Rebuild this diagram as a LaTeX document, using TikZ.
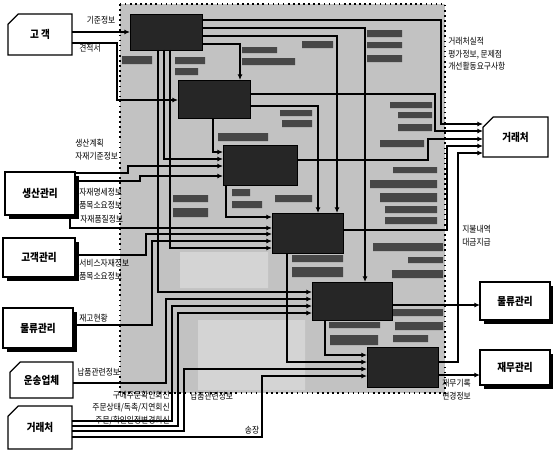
\documentclass[tikz,border=0pt]{standalone}
\usepackage{fontspec}
\newfontfamily\kr[FakeStretch=0.88]{Noto Sans CJK KR}
\usetikzlibrary{arrows.meta,shapes.misc,shadows}

\begin{document}
\begin{tikzpicture}[x=0.02cm,y=-0.02cm,
    proc/.style={draw,fill=black!85,inner sep=0pt,outer sep=0pt},
    ent/.style={draw,line width=0.7pt,fill=white,inner sep=0pt,outer sep=0pt,font=\kr\bfseries\fontsize{6.2}{7}\selectfont},
    shad/.style={ent,drop shadow={shadow xshift=2.5pt,shadow yshift=-2.5pt,opacity=1,fill=black}},
    chamf/.style={ent,chamfered rectangle,chamfered rectangle corners=north west,chamfered rectangle xsep=8pt},
    lbl/.style={font=\kr\fontsize{5}{7.2}\selectfont,inner sep=0pt},
    flow/.style={line width=0.95pt,-{Latex[length=3.2pt,width=2.8pt]}},
    blot/.style={fill=black!72}]
  \useasboundingbox (0,0) rectangle (553,450);
  \fill[gray!48] (120,4) rectangle (445,393);
  \fill[gray!34] (180,252) rectangle (268,288) (198,320) rectangle (305,390);
  \draw[dotted,line width=0.9pt] (120,4) rectangle (445,393);
  \fill[blot] (122,56) rectangle (152,64) (175,57) rectangle (205,64) (175,68) rectangle (198,75)
    (242,47) rectangle (277,53) (242,58) rectangle (295,65) (302,41) rectangle (333,48)
    (367,30) rectangle (402,37) (367,42) rectangle (402,48) (367,55) rectangle (402,62)
    (218,133) rectangle (268,141) (280,110) rectangle (312,116) (282,120) rectangle (312,127)
    (390,102) rectangle (432,108) (398,112) rectangle (432,118) (398,124) rectangle (432,131)
    (380,140) rectangle (424,147);
  \fill[blot] (173,195) rectangle (208,202) (173,208) rectangle (208,217)
    (232,189) rectangle (250,196) (232,201) rectangle (262,208) (275,195) rectangle (312,202)
    (393,167) rectangle (437,173) (370,180) rectangle (437,188) (380,193) rectangle (437,202)
    (385,206) rectangle (437,213) (385,217) rectangle (437,224)
    (373,243) rectangle (443,251) (408,257) rectangle (443,263) (392,270) rectangle (443,278)
    (292,255) rectangle (343,262) (292,267) rectangle (343,277)
    (329,322) rectangle (380,328) (330,335) rectangle (378,345)
    (392,309) rectangle (443,316) (395,322) rectangle (443,330) (393,335) rectangle (428,342);

  \node[proc,minimum width=1.44cm,minimum height=0.72cm] (A) at (166,32) {};
  \node[proc,minimum width=1.44cm,minimum height=0.76cm] (B) at (214,99) {};
  \node[proc,minimum width=1.48cm,minimum height=0.80cm] (C) at (260,165) {};
  \node[proc,minimum width=1.42cm,minimum height=0.80cm] (D) at (307.5,233) {};
  \node[proc,minimum width=1.60cm,minimum height=0.76cm] (E) at (352,301) {};
  \node[proc,minimum width=1.42cm,minimum height=0.80cm] (F) at (402.5,367) {};

  \node[chamf,minimum width=1.28cm,minimum height=0.82cm] (gogaek) at (40,34.5) {고 객};
  \node[shad,minimum width=1.40cm,minimum height=0.86cm] (saengsan) at (40,193.5) {생산관리};
  \node[shad,minimum width=1.44cm,minimum height=0.78cm] (gogaekgr) at (39,257.5) {고객관리};
  \node[shad,minimum width=1.40cm,minimum height=0.80cm] (mulryuL) at (38,328) {물류관리};
  \node[chamf,minimum width=1.26cm,minimum height=0.72cm] (unsong) at (41.5,380) {운송업체};
  \node[chamf,minimum width=1.28cm,minimum height=0.86cm] (georaeL) at (40,427.5) {거래처};
  \node[chamf,minimum width=1.30cm,minimum height=0.80cm] (georaeR) at (515.5,137) {거래처};
  \node[shad,minimum width=1.40cm,minimum height=0.76cm] (mulryuR) at (515,301) {물류관리};
  \node[shad,minimum width=1.40cm,minimum height=0.70cm] (jaemu) at (515,367.5) {재무관리};

  \draw[flow] (gogaek.east |- 0,32) -- (A.west |- 0,32);
  \draw[flow] (gogaek.east |- 0,43) -| (117,100) -- (B.west |- 0,100);
  \draw[flow] (saengsan.east |- 0,173) -| (128,166) -- (C.west |- 0,166);
  \draw[flow] (saengsan.east |- 0,181) -| (140,176) -- (C.west |- 0,176);
  \draw[flow] (saengsan.south -| 70,0) |- (D.west |- 0,228);
  \draw[flow] (gogaekgr.east |- 0,255) -| (146,234) -- (D.west |- 0,234);
  \draw[flow] (mulryuL.east |- 0,325) -| (152,241) -- (D.west |- 0,241);
  \draw[flow] (unsong.east |- 0,383) -| (166,299) -- (E.west |- 0,299);
  \draw[flow] (georaeL.east |- 0,421) -| (172,306) -- (E.west |- 0,306);
  \draw[flow] (georaeL.east |- 0,426) -| (178,313) -- (E.west |- 0,313);
  \draw[flow] (georaeL.east |- 0,431) -| (184,369) -- (F.west |- 0,369);
  \draw[flow] (georaeL.east |- 0,437) -| (262,376) -- (F.west |- 0,376);

  \draw[flow] (A.south -| 158,0) |- (E.west |- 0,292);
  \draw[flow] (A.south -| 164,0) |- (C.west |- 0,159);
  \draw[flow] (A.south -| 170,0) |- (D.west |- 0,248);
  \draw[flow] (B.south -| 213,0) |- (C.west |- 0,152);
  \draw[flow] (C.south -| 226,0) |- (D.west |- 0,217);
  \draw[flow] (D.south -| 287,0) |- (F.west |- 0,362);
  \draw[flow] (E.south -| 325,0) |- (F.west |- 0,355);
  \draw[flow] (A.east |- 0,44) -| (B.north -| 240,0);
  \draw[flow] (A.east |- 0,36) -| (D.north -| 337,0);
  \draw[flow] (A.east |- 0,28) -| (E.north -| 365,0);
  \draw[flow] (B.east |- 0,106) -| (D.north -| 318,0);

  \draw[flow] (A.east |- 0,20) -| (441,124) -- (georaeR.west |- 0,124);
  \draw[flow] (B.east |- 0,94) -| (435,131) -- (georaeR.west |- 0,131);
  \draw[flow] (C.east |- 0,160) -| (428,139) -- (georaeR.west |- 0,139);
  \draw[flow] (D.east |- 0,230) -| (447,146) -- (georaeR.west |- 0,146);
  \draw[flow] (F.east |- 0,362) -| (458,153) -- (georaeR.west |- 0,153);
  \draw[flow] (E.east |- 0,305) -- (mulryuR.west |- 0,305);
  \draw[flow] (F.east |- 0,375) -- (jaemu.west |- 0,375);

  \node[lbl] (lgijun) at (101,20) {기준정보};
  \node[lbl] (lgyeon) at (90,48) {견적서};
  \node[lbl,anchor=west,align=left] (lsaeng) at (75,150) {생산계획\\자재기준정보};
  \node[lbl,anchor=west,align=left] (lmyeong) at (79,199) {자재명세정보\\품목소요정보};
  \node[lbl,anchor=west] (lpum) at (80,219) {자재품질정보};
  \node[lbl,anchor=west,align=left] (lseo) at (79,270) {서비스자재정보\\품목소요정보};
  \node[lbl,anchor=west] (ljaego) at (79,318) {재고현황};
  \node[lbl,anchor=west] (lnap) at (77,372) {납품관련정보};
  \node[lbl,anchor=east,align=right] (lgume) at (170,408) {구매주문확인회신\\주문상태/독촉/지연회신\\주문/확인일정변경회신};
  \node[lbl,anchor=west] (lnap2) at (190,396) {납품관련정보};
  \node[lbl] (lsong) at (252,430) {송장};
  \node[lbl,anchor=west,align=left] (lsiljeok) at (448,54) {거래처실적\\평가정보, 문제점\\개선활동요구사항};
  \node[lbl,anchor=west,align=left] (ljibul) at (462,236) {지불내역\\대금지급};
  \node[lbl,anchor=west,align=left] (ljaemu) at (442,390) {재무기록\\변경정보};
\end{tikzpicture}
\end{document}
